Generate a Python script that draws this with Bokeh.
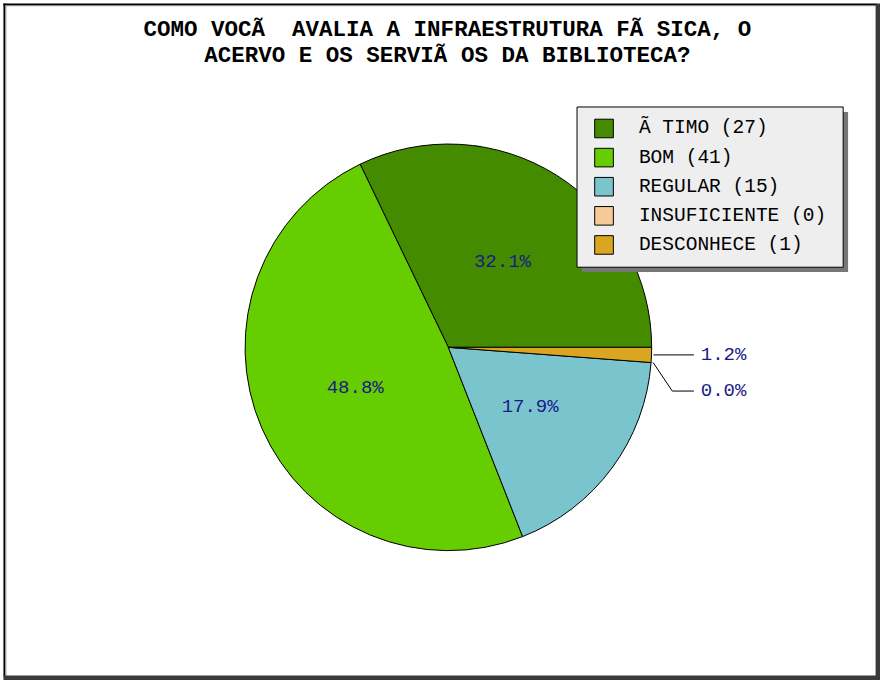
import math
from bokeh.plotting import figure
from bokeh.models import Range1d, ColumnDataSource
from bokeh.core.properties import value
from bokeh.embed import file_html
from bokeh.resources import INLINE

# ---------------- data ----------------
title_lines = ["COMO VOCÃ\u00a0 AVALIA A INFRAESTRUTURA FÃ SICA, O",
               "ACERVO E OS SERVIÃ OS DA BIBLIOTECA?"]
categories = ["Ã TIMO", "BOM", "REGULAR", "INSUFICIENTE", "DESCONHECE"]
counts = [27, 41, 15, 0, 1]
colors = ["#458B00", "#66CD00", "#7AC5CD", "#F5C998", "#DAA520"]

# ---------------- layout helpers ----------------
W, H = 880, 680
RW, RH = 896, 696          # design space
FONT = value("Liberation Mono")
LABEL_COLOR = "#1a1a88"


def Y(yref):
    # convert a screen-down coordinate to data-up coordinate
    return RH - yref


p = figure(width=W, height=H, x_range=Range1d(0, RW), y_range=Range1d(0, RH),
           output_backend="svg", toolbar_location=None,
           x_axis_type=None, y_axis_type=None, min_border=0)
p.grid.visible = False
p.outline_line_color = None
p.background_fill_color = "white"
p.border_fill_color = "white"

# ---------------- frame ----------------
p.quad(left=[3, 3], right=[5, 892], bottom=[Y(692), Y(5)], top=[Y(3), Y(3)],
       fill_color="black", line_color=None)
p.quad(left=[5, 5], right=[6, 892], bottom=[Y(692), Y(6)], top=[Y(5), Y(5)],
       fill_color="#9a9a9a", line_color=None)
p.quad(left=[891, 3], right=[896, 896], bottom=[Y(696), Y(696)], top=[Y(3), Y(691)],
       fill_color="#3a3a3a", line_color=None)

# ---------------- title ----------------
p.text(x=[455, 455], y=[Y(30), Y(57)], text=title_lines,
       text_font=FONT, text_font_style="bold", text_font_size=value("22.5px"),
       text_align="center", text_baseline="middle", text_color="black")

# ---------------- pie ----------------
cx, cy, r = 456, Y(355), 207
total = sum(counts)
fracs = [c / total for c in counts]
starts, ends = [], []
a = 0.0
for f in fracs:
    starts.append(a)
    a += 2 * math.pi * f
    ends.append(a)

nz = [i for i, c in enumerate(counts) if c > 0]
wsrc = ColumnDataSource(dict(
    x=[cx] * len(nz), y=[cy] * len(nz),
    s=[starts[i] for i in nz], e=[ends[i] for i in nz],
    c=[colors[i] for i in nz]))
p.wedge(x="x", y="y", radius=r, start_angle="s", end_angle="e",
        direction="anticlock", fill_color="c", line_color="black",
        line_width=1, source=wsrc)

# inside labels
in_x, in_y, in_t = [], [], []
small = []
for i, f in enumerate(fracs):
    m = (starts[i] + ends[i]) / 2
    txt = "%.1f%%" % (100 * f)
    if f >= 0.05:
        in_x.append(cx + 0.5 * r * math.cos(m))
        in_y.append(cy + 0.5 * r * math.sin(m))
        in_t.append(txt)
    else:
        small.append((cy + r * math.sin(m), cx + r * math.cos(m), txt))

p.text(x=in_x, y=in_y, text=in_t, text_font=FONT, text_font_size=value("19px"),
       text_align="center", text_baseline="middle", text_color=LABEL_COLOR)

# outside labels with leader lines
small.sort(key=lambda t: -t[0])
prev = None
lx, ly, lt = [], [], []
xs, ys = [], []
for ny, nx, txt in small:
    yy = ny if prev is None else min(ny, prev - 37)
    prev = yy
    knee = cx + r + 21
    end = cx + r + 43
    if abs(yy - ny) < 1:
        xs.append([nx + 2, end]); ys.append([yy, yy])
    else:
        xs.append([nx + 2, knee, end]); ys.append([ny, yy, yy])
    lx.append(cx + r + 50); ly.append(yy); lt.append(txt)

p.multi_line(xs=xs, ys=ys, line_color="black", line_width=1)
p.text(x=lx, y=ly, text=lt, text_font=FONT, text_font_size=value("19px"),
       text_align="left", text_baseline="middle", text_color=LABEL_COLOR)

# ---------------- legend ----------------
L, T, R, B = 587, 109, 858, 273
p.quad(left=[L + 5], right=[R + 5], top=[Y(T + 5)], bottom=[Y(B + 5)],
       fill_color="#777777", line_color=None)
p.quad(left=[L], right=[R], top=[Y(T)], bottom=[Y(B)],
       fill_color="#EEEEEE", line_color="black", line_width=1)
row0, step = 131, 29.8
leg_y = [Y(row0 + k * step) for k in range(len(categories))]
p.rect(x=[614.5] * len(categories), y=leg_y, width=19, height=19,
       fill_color=colors, line_color="black", line_width=1)
p.text(x=[650] * len(categories), y=leg_y,
       text=["%s (%d)" % (c, n) for c, n in zip(categories, counts)],
       text_font=FONT, text_font_size=value("19.5px"),
       text_align="left", text_baseline="middle", text_color="black")

open("out.html", "w").write(file_html(p, INLINE))
